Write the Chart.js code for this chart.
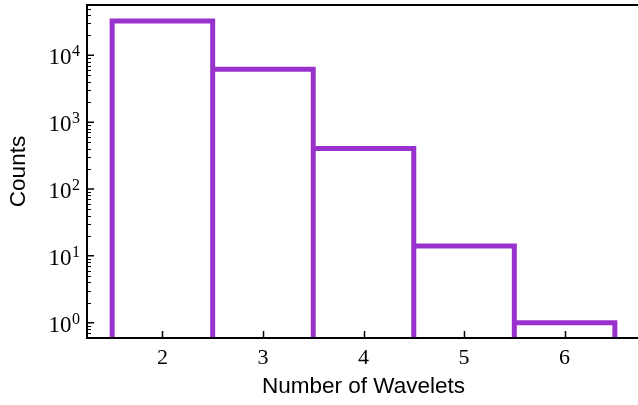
<!DOCTYPE html>
<html>
<head>
<meta charset="utf-8">
<script src="https://cdn.jsdelivr.net/npm/chart.js@4"></script>
<style>
  html, body { margin: 0; padding: 0; background: #fff; overflow: hidden; }
  #wrap { width: 642px; height: 405px; }
</style>
</head>
<body>
<div id="wrap"><canvas id="myChart"></canvas></div>
<script>
// histogram bins (number of wavelets) and counts
const binCenters = [2, 3, 4, 5, 6];
const counts = [32600, 6200, 404, 14, 1];
const xTicks = [2, 3, 4, 5, 6];
const yTicks = [1, 10, 100, 1000, 10000];

const yMin = 0.59, yMax = 56500;
const purple = '#9932CC';

// outline of each bar: up the left edge, across, down the right edge
const outline = [];
binCenters.forEach((c, i) => {
  outline.push({x: c - 0.5, y: yMin});
  outline.push({x: c - 0.5, y: counts[i]});
  outline.push({x: c + 0.5, y: counts[i]});
  outline.push({x: c + 0.5, y: yMin});
});

const frame = {
  id: 'frame',
  afterDraw(chart) {
    const c = chart.ctx, a = chart.chartArea;
    const xs = chart.scales.x, ys = chart.scales.y;
    c.save();
    c.strokeStyle = '#000';
    c.lineWidth = 1.5;
    // inward ticks
    c.beginPath();
    xTicks.forEach(v => {
      const px = Math.round(xs.getPixelForValue(v)) + 0.5;
      c.moveTo(px, a.bottom); c.lineTo(px, a.bottom - 7);
    });
    yTicks.forEach(v => {
      const py = ys.getPixelForValue(v);
      c.moveTo(a.left, py); c.lineTo(a.left + 7, py);
    });
    c.stroke();
    c.lineWidth = 1;
    c.beginPath();
    for (let e = -1; e <= 4; e++) {
      for (let m = 2; m <= 9; m++) {
        const v = m * Math.pow(10, e);
        if (v < yMin || v > yMax) continue;
        const py = Math.round(ys.getPixelForValue(v)) + 0.5;
        c.moveTo(a.left, py); c.lineTo(a.left + 4, py);
      }
    }
    c.stroke();
    // spines
    c.lineWidth = 2;
    c.beginPath();
    c.moveTo(a.left, a.top); c.lineTo(a.left, a.bottom);
    c.moveTo(a.left - 1, a.bottom); c.lineTo(a.right, a.bottom);
    c.moveTo(a.left - 1, a.top); c.lineTo(a.right, a.top);
    c.stroke();
    // y labels as 10^n
    c.fillStyle = '#000';
    c.textBaseline = 'alphabetic';
    yTicks.forEach(v => {
      const py = ys.getPixelForValue(v);
      const ex = String(Math.round(Math.log10(v)));
      c.font = '16px "Liberation Serif"';
      const ew = c.measureText(ex).width;
      c.textAlign = 'right';
      c.fillText(ex, 80, py + 1);
      c.font = '23px "Liberation Serif"';
      c.fillText('10', 80 - ew - 0.5, py + 9);
    });
    c.restore();
  }
};

const ctx = document.getElementById('myChart');
new Chart(ctx, {
  type: 'line',
  data: {
    datasets: [{
      data: outline,
      borderColor: purple,
      borderWidth: 5,
      pointRadius: 0,
      fill: false,
      tension: 0
    }]
  },
  options: {
    responsive: true,
    maintainAspectRatio: false,
    animation: false,
    layout: { padding: { left: 0, right: 2, top: 5, bottom: 0 } },
    plugins: { legend: { display: false }, tooltip: { enabled: false } },
    scales: {
      x: {
        type: 'linear',
        min: 1.25, max: 6.75,
        grid: { display: false, drawTicks: false },
        border: { display: false },
        afterBuildTicks: s => { s.ticks = xTicks.map(v => ({value: v})); },
        afterFit: s => { s.height = 67; },
        ticks: { font: { family: 'Liberation Serif', size: 22 }, color: '#000', padding: 7 },
        title: {
          display: true, text: 'Number of Wavelets', color: '#000',
          font: { family: 'Liberation Sans', size: 22.5 },
          padding: { top: 0, bottom: 5 }
        }
      },
      y: {
        type: 'logarithmic',
        min: yMin, max: yMax,
        grid: { display: false, drawTicks: false },
        border: { display: false },
        afterBuildTicks: s => { s.ticks = yTicks.map(v => ({value: v})); },
        afterFit: s => { s.width = 87; },
        ticks: { display: false },
        title: {
          display: true, text: 'Counts', color: '#000',
          font: { family: 'Liberation Sans', size: 22.5 },
          padding: { top: 5, bottom: 0 }
        }
      }
    }
  },
  plugins: [frame]
});
</script>
</body>
</html>
